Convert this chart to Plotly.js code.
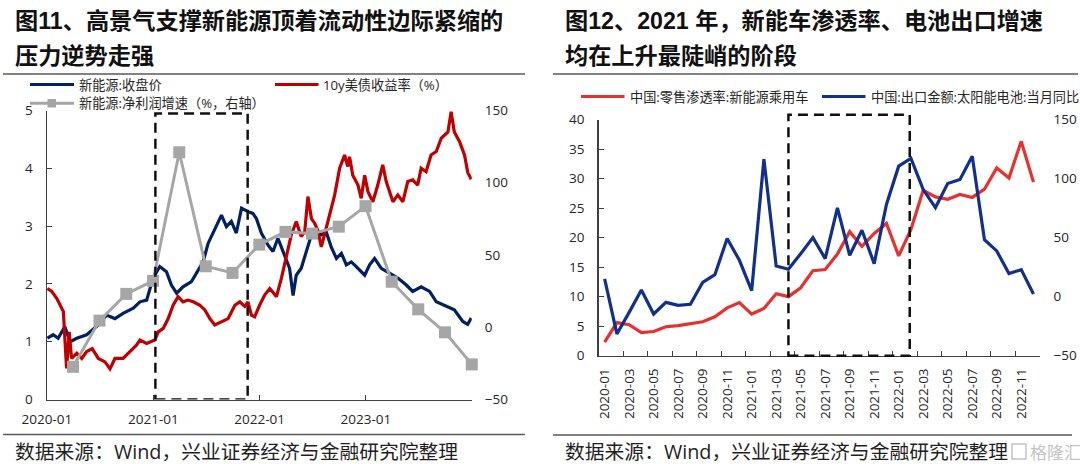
<!DOCTYPE html>
<html><head><meta charset="utf-8">
<script src="https://cdn.plot.ly/plotly-3.0.1.min.js"></script>
<style>html,body{margin:0;padding:0;background:#fff;}#chart{width:1080px;height:464px;}</style>
</head><body><div id="chart"></div>
<script>
// ---------- Left chart data (图11) ----------
const nevPriceDates = ['2020-01-03','2020-01-23','2020-02-09','2020-03-03','2020-03-21','2020-04-13','2020-05-17','2020-06-26','2020-07-24','2020-08-22','2020-09-19','2020-10-24','2020-11-16','2020-12-09','2020-12-31','2021-01-23','2021-02-15','2021-03-04','2021-03-22','2021-04-13','2021-05-12','2021-06-10','2021-06-21','2021-07-08','2021-08-06','2021-08-23','2021-09-09','2021-09-26','2021-10-13','2021-10-31','2021-11-22','2021-12-09','2021-12-21','2022-01-07','2022-01-30','2022-02-16','2022-03-05','2022-03-22','2022-04-14','2022-04-26','2022-05-07','2022-05-24','2022-06-11','2022-06-28','2022-07-15','2022-08-01','2022-08-18','2022-09-04','2022-09-22','2022-10-09','2022-10-26','2022-11-12','2022-11-29','2022-12-28','2023-01-14','2023-01-31','2023-02-23','2023-03-23','2023-04-21','2023-05-20','2023-06-11','2023-07-10','2023-08-08','2023-08-31','2023-10-04','2023-11-01','2023-11-30','2023-12-17','2023-12-29'];
const nevPrice = [1.06,1.12,1.06,1.26,1.00,1.06,1.12,1.29,1.46,1.40,1.49,1.58,1.69,1.72,2.10,2.30,2.21,1.98,1.84,1.95,2.04,2.27,2.38,2.70,3.02,3.19,2.99,3.08,2.88,3.31,3.25,3.22,3.13,2.88,2.67,2.56,2.79,2.56,2.27,1.80,2.15,2.27,2.56,2.85,2.93,2.85,2.90,2.64,2.44,2.53,2.33,2.38,2.30,2.15,2.33,2.44,2.27,2.18,2.10,1.98,1.87,1.95,1.87,1.69,1.61,1.55,1.35,1.30,1.41];

const ust10yDates = ['2020-01-03','2020-01-18','2020-02-04','2020-02-15','2020-02-27','2020-03-03','2020-03-09','2020-03-18','2020-03-26','2020-04-13','2020-04-30','2020-05-17','2020-06-05','2020-06-26','2020-07-19','2020-08-05','2020-08-22','2020-09-19','2020-10-12','2020-11-04','2020-11-16','2020-12-09','2021-01-06','2021-01-18','2021-02-04','2021-02-21','2021-03-10','2021-03-27','2021-04-13','2021-04-30','2021-05-18','2021-06-10','2021-06-27','2021-07-14','2021-07-31','2021-08-23','2021-09-15','2021-10-08','2021-10-25','2021-11-11','2021-11-22','2021-12-04','2021-12-15','2022-01-01','2022-01-19','2022-02-05','2022-02-28','2022-03-17','2022-04-03','2022-04-20','2022-05-07','2022-05-24','2022-06-05','2022-06-16','2022-06-28','2022-07-09','2022-07-20','2022-08-01','2022-08-12','2022-08-30','2022-09-16','2022-10-03','2022-10-20','2022-10-31','2022-11-06','2022-11-17','2022-12-05','2022-12-16','2022-12-28','2023-01-08','2023-01-25','2023-02-11','2023-02-28','2023-03-12','2023-03-23','2023-04-04','2023-04-21','2023-05-08','2023-05-25','2023-06-11','2023-06-28','2023-07-10','2023-07-27','2023-08-13','2023-08-31','2023-09-17','2023-10-10','2023-10-21','2023-11-01','2023-11-19','2023-12-06','2023-12-17','2023-12-29'];
const ust10y = [1.92,1.87,1.75,1.63,1.52,1.06,0.54,1.17,0.71,0.80,0.71,0.83,0.88,0.71,0.65,0.53,0.71,0.71,0.83,0.94,1.03,0.97,1.03,1.17,1.23,1.40,1.63,1.78,1.69,1.72,1.69,1.63,1.55,1.40,1.29,1.35,1.40,1.63,1.69,1.61,1.69,1.46,1.43,1.63,1.81,1.92,1.78,2.10,2.50,2.85,3.08,2.82,2.90,3.51,3.13,3.05,2.93,2.64,2.85,3.19,3.54,4.00,4.23,4.03,4.20,3.88,3.71,3.48,3.88,3.60,3.42,3.71,4.06,3.77,3.60,3.42,3.54,3.42,3.77,3.80,3.71,4.00,3.94,4.23,4.29,4.52,4.63,4.98,4.63,4.46,4.23,3.93,3.81];

const profitDates = ['2020-03-31','2020-06-30','2020-09-30','2020-12-31','2021-03-31','2021-06-30','2021-09-30','2021-12-31','2022-03-31','2022-06-30','2022-09-30','2022-12-31','2023-03-31','2023-06-30','2023-09-30','2023-12-31'];
const profitGrowth = [-27.4,4.6,23.1,32.1,121.1,42.2,37.6,57.2,66.0,64.8,69.6,83.8,31.5,12.4,-3.5,-25.7];

const leftHighlight = {from:'2021-01-08', to:'2021-11-21', top:4.95};

// ---------- Right chart data (图12) ----------
const months = ['2020-01','2020-02','2020-03','2020-04','2020-05','2020-06','2020-07','2020-08','2020-09','2020-10','2020-11','2020-12',
  '2021-01','2021-02','2021-03','2021-04','2021-05','2021-06','2021-07','2021-08','2021-09','2021-10','2021-11','2021-12',
  '2022-01','2022-02','2022-03','2022-04','2022-05','2022-06','2022-07','2022-08','2022-09','2022-10','2022-11','2022-12'];
const nevPenetration = [2.3,5.6,5.25,3.9,4.1,4.9,5.1,5.4,5.75,6.6,8.1,9.0,7.05,8.0,10.5,10.0,11.5,14.4,14.6,17.2,21.0,18.5,20.7,22.4,16.9,21.4,28.0,26.9,26.5,27.3,26.8,28.2,31.8,30.1,36.3,29.4];
const solarExportYoY = [15.0,-31.6,-13.3,5.6,-14.7,-4.8,-7.3,-6.5,12.1,18.6,49.2,30.8,5.1,116.4,26.0,23.2,36.4,50.0,32.2,75.1,35.0,56.2,28.0,78.0,110.5,117.0,90.7,75.4,95.8,99.2,118.9,48.3,38.7,19.5,22.9,2.3];
const rightHighlight = {from:'2021-04', to:'2022-02'};

// ---------- Texts ----------
const leftTitle = ['图<b>11</b>、高景气支撑新能源顶着流动性边际紧缩的','压力逆势走强'];
const rightTitle = ['图<b>12</b>、<b>2021</b> 年，新能车渗透率、电池出口增速','均在上升最陡峭的阶段'];
const sourceText = '数据来源：Wind，兴业证券经济与金融研究院整理';
const leftLegend = ['新能源:收盘价','10y美债收益率（%）','新能源:净利润增速（%，右轴）'];
const rightLegend = ['中国:零售渗透率:新能源乘用车','中国:出口金额:太阳能电池:当月同比'];

// ---------- Styling / geometry ----------
const W = 1080, H = 464;
const fx = p => p / W, fy = p => 1 - p / H;
const C = {navy:'#002060', red:'#C00000', gray:'#A6A6A6', red2:'#E8302E', blue2:'#12308A', axis:'#404040', text:'#262626', rule:'#595959'};
const tickFont = {family:'Open Sans, Noto Sans CJK SC, sans-serif', size:13.5, color:C.text};
const cjk = 'Noto Sans CJK SC, sans-serif';
const LP = {x0:46.8, x1:471.8, y0:110.5, y1:399.5};
const RP = {x0:598.5, x1:1039.6, y0:119.5, y1:355.7};

const traces = [
  {x:nevPriceDates, y:nevPrice, type:'scatter', mode:'lines', line:{color:C.navy, width:3.2}, xaxis:'x', yaxis:'y', cliponaxis:false},
  {x:ust10yDates, y:ust10y, type:'scatter', mode:'lines', line:{color:C.red, width:3.2}, xaxis:'x', yaxis:'y', cliponaxis:false},
  {x:profitDates, y:profitGrowth, type:'scatter', mode:'lines+markers', line:{color:C.gray, width:3}, marker:{symbol:'square', size:12, color:C.gray}, xaxis:'x', yaxis:'y2', cliponaxis:false},
  {x:months, y:nevPenetration, type:'scatter', mode:'lines', line:{color:C.red2, width:3.2}, xaxis:'x2', yaxis:'y3', cliponaxis:false},
  {x:months, y:solarExportYoY, type:'scatter', mode:'lines', line:{color:C.blue2, width:3.2}, xaxis:'x2', yaxis:'y4', cliponaxis:false}
];

const evenMonths = months.filter((m,i) => i % 2 === 0);
const boundaryTicks = months.map((m,i) => i + 0.5).filter((v,i) => i % 2 === 1 && i < months.length - 1);

const layout = {
  width:W, height:H, margin:{l:0,r:0,t:0,b:0, autoexpand:false},
  paper_bgcolor:'#fff', plot_bgcolor:'rgba(0,0,0,0)', showlegend:false,
  font:{family:'Open Sans, Noto Sans CJK SC, sans-serif', color:C.text},
  xaxis:{type:'date', domain:[fx(LP.x0), fx(LP.x1)], anchor:'y', range:['2020-01-01','2023-12-31'],
    tickformat:'%Y-%m', dtick:'M12', tick0:'2020-01-01', ticks:'inside', ticklen:5, tickcolor:C.axis,
    showline:true, linecolor:C.axis, linewidth:1.3, showgrid:false, zeroline:false, tickfont:tickFont, ticklabelstandoff:7},
  yaxis:{domain:[fy(LP.y1), fy(LP.y0)], anchor:'x', range:[0,5], dtick:1, ticks:'inside', ticklen:5, tickcolor:C.axis,
    showline:true, linecolor:C.axis, linewidth:1.3, showgrid:false, zeroline:false, tickfont:tickFont, ticklabelstandoff:10},
  yaxis2:{overlaying:'y', side:'right', anchor:'x', range:[-50,150], dtick:50, ticks:'', showline:false, showgrid:false, zeroline:false, tickfont:tickFont, ticklabelstandoff:12},
  xaxis2:{type:'category', domain:[fx(RP.x0), fx(RP.x1)], anchor:'y3', range:[-0.5, months.length - 0.5],
    tickmode:'array', tickvals:evenMonths, ticktext:evenMonths, tickangle:-90, ticks:'',
    showline:true, linecolor:C.axis, linewidth:1.3, showgrid:false, zeroline:false, tickfont:tickFont, ticklabelstandoff:6},
  xaxis3:{type:'linear', overlaying:'x2', anchor:'y3', range:[-0.5, months.length - 0.5], tickmode:'array', tickvals:boundaryTicks,
    ticks:'inside', ticklen:5, tickcolor:C.axis, showticklabels:false, showline:false, showgrid:false, zeroline:false},
  yaxis3:{domain:[fy(RP.y1), fy(RP.y0)], anchor:'x2', range:[0,40], dtick:5, ticks:'inside', ticklen:5, tickcolor:C.axis,
    showline:true, linecolor:C.axis, linewidth:1.3, showgrid:false, zeroline:false, tickfont:tickFont, ticklabelstandoff:10},
  yaxis4:{overlaying:'y3', side:'right', anchor:'x2', range:[-50,150], dtick:50, ticks:'', showline:false, showgrid:false, zeroline:false, tickfont:tickFont, ticklabelstandoff:13},
  shapes:[], annotations:[]
};

function rule(x0,x1,y){ layout.shapes.push({type:'line', xref:'paper', yref:'paper', x0:fx(x0), x1:fx(x1), y0:fy(y), y1:fy(y), line:{color:C.rule, width:1.5}}); }
function legLine(x0,x1,y,color){ layout.shapes.push({type:'line', xref:'paper', yref:'paper', x0:fx(x0), x1:fx(x1), y0:fy(y), y1:fy(y), line:{color:color, width:3}}); }
function txt(x,y,text,font){ layout.annotations.push({xref:'paper', yref:'paper', x:fx(x), y:fy(y), xanchor:'left', yanchor:'middle', showarrow:false, text:text, font:font, borderpad:0}); }

// rules
rule(3,525,74); rule(553,1078,74); rule(3,525,434.5); rule(553,1072,435);
// titles
const titleFont = {family:'Liberation Sans, '+cjk, size:23.2, color:'#111', weight:'bold'};
txt(14, 21.5, leftTitle[0], titleFont); txt(14, 55.5, leftTitle[1], titleFont);
txt(564, 21.5, rightTitle[0], titleFont); txt(564, 56, rightTitle[1], titleFont);
// sources
const srcFont = {family:'Open Sans, '+cjk, size:19.8, color:'#1f1f1f'};
txt(14, 451, sourceText, srcFont); txt(564, 451, sourceText, srcFont);
// watermark
layout.shapes.push({type:'rect', xref:'paper', yref:'paper', x0:fx(1012), x1:fx(1026), y0:fy(459), y1:fy(444), line:{color:'#c4c4c4', width:1.5}});
txt(1029, 451, '格隆汇', {family:cjk, size:17, color:'#c4c4c4'});

// left legend
const legFont = {family:'Open Sans, '+cjk, size:13.2, color:C.text};
legLine(30,74,84.5,C.navy); txt(78, 84.5, leftLegend[0], legFont);
legLine(275,318.5,84.5,C.red); txt(322, 84.5, leftLegend[1], legFont);
legLine(30,74,103.3,C.gray); txt(78, 103.3, leftLegend[2], legFont);
layout.shapes.push({type:'rect', xref:'paper', yref:'paper', x0:fx(47.5), x1:fx(56), y0:fy(107.5), y1:fy(99), fillcolor:C.gray, line:{width:0}});
// right legend
legLine(581,624.5,96.5,C.red2); txt(629, 96.5, rightLegend[0], legFont);
legLine(822,865.5,96.5,C.blue2); txt(869.5, 96.5, rightLegend[1], legFont);

// highlight rectangles
layout.shapes.push({type:'rect', xref:'x', yref:'y', x0:leftHighlight.from, x1:leftHighlight.to, y0:0, y1:leftHighlight.top,
  line:{color:'#111', width:2.5, dash:'10px,6px'}, fillcolor:'rgba(0,0,0,0)'});
layout.shapes.push({type:'rect', xref:'x3', yref:'y3 domain', x0:months.indexOf(rightHighlight.from), x1:months.indexOf(rightHighlight.to) - 0.1, y0:0, y1:1.02,
  line:{color:'#111', width:2.5, dash:'10px,6px'}, fillcolor:'rgba(0,0,0,0)'});

Plotly.newPlot('chart', traces, layout, {staticPlot:true, displayModeBar:false});
</script></body></html>
